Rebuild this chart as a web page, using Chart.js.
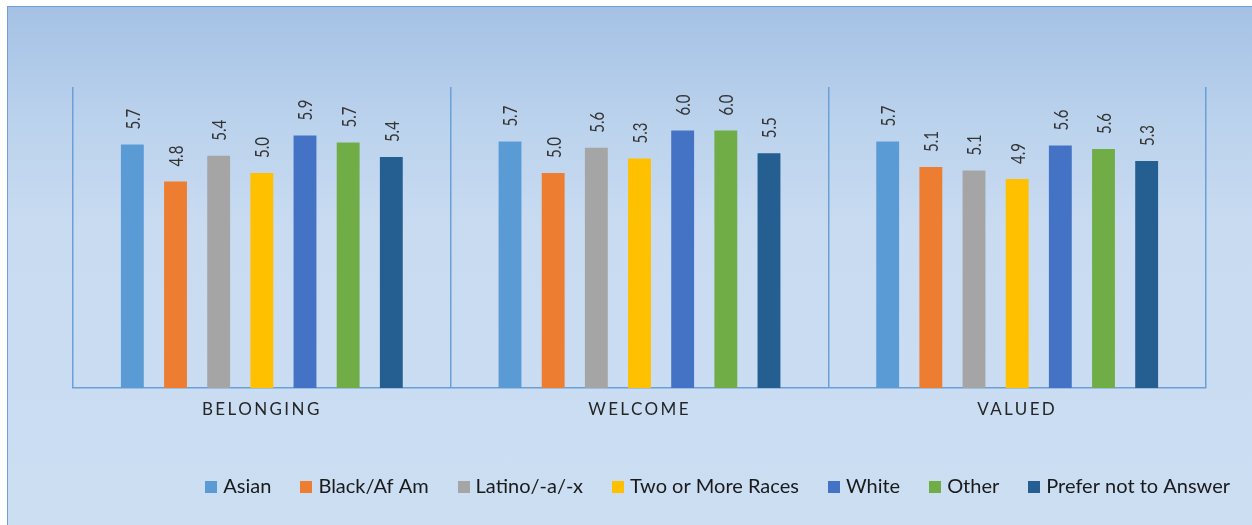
<!DOCTYPE html>
<html>
<head>
<meta charset="utf-8">
<script src="https://cdn.jsdelivr.net/npm/chart.js@4.4.1/dist/chart.umd.min.js"></script>
<style>
  html, body { margin: 0; padding: 0; background: #ffffff; }
  body { width: 1252px; height: 525px; position: relative; overflow: hidden; }
  #frame {
    position: absolute; left: 7px; top: 6px; width: 1250px; height: 525px;
    border-top: 1px solid #6f9fd6; border-left: 1px solid #6f9fd6;
    background: linear-gradient(to bottom, #a4c1e5 0px, #bcd3ed 120px, #c8dbf1 220px, #cbdef2 100%);
  }
  #chart { position: absolute; left: 0; top: 0; }
</style>
</head>
<body>
<div id="frame"></div>
<canvas id="chart" width="1252" height="525"></canvas>
<script>
const categories = ['BELONGING', 'WELCOME', 'VALUED'];
const groups = ['Asian', 'Black/Af Am', 'Latino/-a/-x', 'Two or More Races', 'White', 'Other', 'Prefer not to Answer'];

// one array per group, in category order
const asian = [5.66, 5.73, 5.73];
const blackAfAm = [4.80, 5.00, 5.14];
const latino = [5.40, 5.59, 5.06];
const twoOrMore = [5.00, 5.34, 4.86];
const white = [5.87, 5.99, 5.64];
const other = [5.71, 5.99, 5.56];
const preferNot = [5.37, 5.46, 5.28];

const colors = ['#5b9bd5', '#ed7d31', '#a5a5a5', '#ffc000', '#4472c4', '#70ad47', '#255e91'];
const series = [asian, blackAfAm, latino, twoOrMore, white, other, preferNot];

const AXIS_BLUE = '#6a9fd8';

// small square legend swatch, drawn as an image so the text can sit closer
function swatch(color) {
    const c = document.createElement('canvas');
    c.width = 12;
    c.height = 12;
    const g = c.getContext('2d');
    g.fillStyle = color;
    g.fillRect(0, 0, 12, 12);
    return c;
}

const valueLabels = {
    id: 'valueLabels',
    afterDatasetsDraw(chart) {
        const ctx = chart.ctx;
        chart.data.datasets.forEach(function (ds, i) {
            const meta = chart.getDatasetMeta(i);
            meta.data.forEach(function (bar, j) {
                ctx.save();
                ctx.translate(bar.x + 1, bar.y - 15);
                ctx.rotate(-Math.PI / 2);
                ctx.scale(0.75, 1);
                ctx.font = '20px Lato, sans-serif';
                ctx.fillStyle = '#333333';
                ctx.textAlign = 'left';
                ctx.textBaseline = 'middle';
                ctx.fillText(ds.data[j].toFixed(1), 0, 0);
                ctx.restore();
            });
        });
    },
};

// spaced-out category labels under the axis
const spacedTicks = {
    id: 'spacedTicks',
    beforeDraw(chart) {
        const s = chart.scales.x;
        if (s._spaced) return;
        const orig = s.drawLabels.bind(s);
        s.drawLabels = function (area) {
            this.ctx.save();
            this.ctx.letterSpacing = '2.4px';
            orig(area);
            this.ctx.restore();
        };
        s._spaced = true;
    },
};

new Chart(document.getElementById('chart'), {
    type: 'bar',
    data: {
        labels: categories,
        datasets: groups.map(function (g, i) {
            return {
                label: g,
                data: series[i],
                backgroundColor: colors[i],
                borderWidth: 0,
                barPercentage: 0.53,
                categoryPercentage: 0.8,
            };
        }),
    },
    options: {
        responsive: false,
        animation: false,
        layout: { padding: { top: 87, left: 0, right: -11, bottom: 18 } },
        plugins: {
            tooltip: { enabled: false },
            legend: {
                position: 'bottom',
                align: 'end',
                labels: {
                    usePointStyle: true,
                    pointStyleWidth: 4,
                    boxHeight: 12,
                    padding: 33,
                    color: '#1a1a1a',
                    font: { family: 'Lato', size: 20 },
                    generateLabels(chart) {
                        const items = Chart.defaults.plugins.legend.labels.generateLabels(chart);
                        items.forEach(function (it, i) {
                            it.pointStyle = swatch(colors[i]);
                        });
                        return items;
                    },
                },
            },
        },
        scales: {
            x: {
                grid: { offset: true, color: AXIS_BLUE, lineWidth: 1.5, drawTicks: false },
                border: { color: AXIS_BLUE, width: 1.5 },
                ticks: { color: '#262626', font: { family: 'Lato', size: 17 }, padding: 11 },
                afterFit: function (s) { s.height = 56; },
            },
            y: {
                min: 0,
                max: 7,
                grid: { display: false },
                border: { display: false },
                ticks: { display: false },
                afterFit: function (s) { s.width = 73; },
            },
            yRight: {
                type: 'linear',
                position: 'right',
                grid: { display: false },
                border: { display: false },
                ticks: { display: false },
                afterFit: function (s) { s.width = 57; },
            },
        },
    },
    plugins: [valueLabels, spacedTicks],
});
</script>
</body>
</html>
